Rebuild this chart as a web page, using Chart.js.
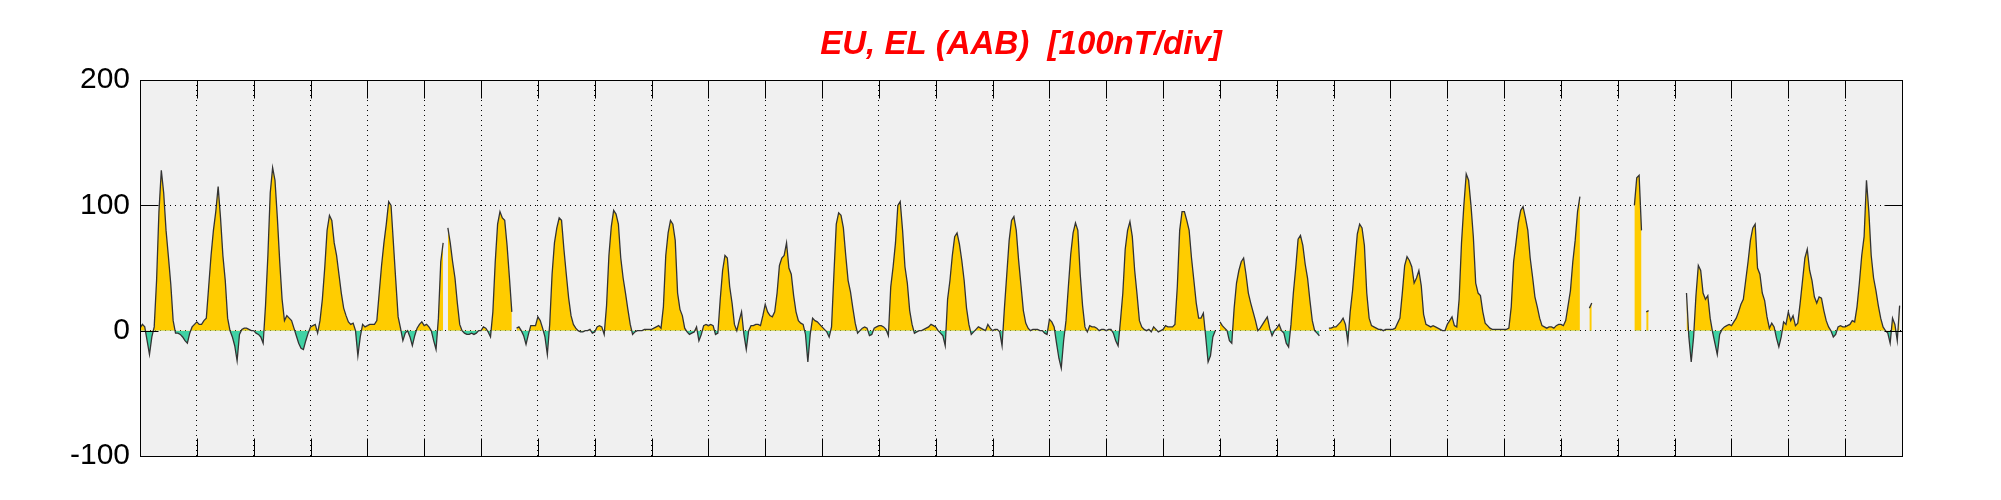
<!DOCTYPE html>
<html><head><meta charset="utf-8">
<style>html,body{margin:0;padding:0;background:#fff;overflow:hidden}</style>
<script src="https://cdn.jsdelivr.net/npm/chart.js@4.4.1/dist/chart.umd.min.js"></script>
</head><body>
<canvas id="c" width="2001" height="500"></canvas>
<script>
const titleText = 'EU, EL (AAB)  [100nT/div]';
const yMin = -100, yMax = 200, yStep = 100;
const dayCount = 31;
// hourly EU/EL values (nT), one array per day
const day00 = [2,5,3,-8,-19,-5,3,40,95,128,110,80,59,37,8,-2,-2,-3,-5,-8,-10,-2,3,5];
const day01 = [7,5,5,8,10,35,60,80,95,115,90,60,40,10,0,-5,-12,-24,-3,1,2,2,1,0];
const day02 = [0,-2,-3,-5,-10,20,60,110,130,120,90,55,25,8,12,10,8,2,-4,-10,-14,-15,-8,-2];
const day03 = [3,4,5,-2,8,25,50,80,92,88,70,60,45,30,18,12,7,5,6,0,-20,-5,5,3];
const day04 = [4,5,5,5,8,30,52,70,85,103,100,70,40,11,2,-8,-2,0,-5,-12,-4,2,5,7];
const day05 = [4,5,3,0,-8,-15,10,55,70,null,82,70,55,42,22,5,0,-2,-3,-3,-2,-3,-2,0];
const day06 = [0,3,2,-1,-5,15,55,85,95,90,88,68,42,15,null,2,3,0,-4,-11,-3,4,4,4];
const day07 = [11,8,2,-5,-19,5,45,70,82,90,88,65,45,26,12,5,2,0,-1,-1,0,0,1,-2];
const day08 = [-1,3,4,3,-3,20,60,83,96,93,85,58,42,30,17,5,-3,-1,0,0,0,1,1,1];
const day09 = [1,2,3,4,2,19,60,78,88,85,72,30,17,12,2,-1,-3,-2,-1,3,-8,-3,4,5];
const day10 = [4,5,4,-3,-2,25,48,60,58,35,22,5,0,8,15,-3,-15,0,4,4,5,5,4,12];
const day11 = [21,15,12,11,15,30,52,58,60,70,50,45,28,15,8,6,5,-3,-25,-3,10,8,7,5];
const day12 = [3,1,-1,-5,3,45,85,94,92,82,60,40,31,18,6,-2,0,2,3,2,-4,-3,2,3];
const day13 = [4,4,3,1,-4,35,51,70,100,103,80,51,38,16,5,-2,-1,0,0,1,2,3,5,4];
const day14 = [3,0,-2,-4,-12,25,40,60,75,78,69,56,40,18,5,-3,-1,1,3,2,1,0,5,2];
const day15 = [0,1,1,-1,-12,18,45,72,88,91,80,56,36,16,6,2,0,1,1,1,0,0,-2,-3];
const day16 = [9,7,3,-10,-22,-30,-8,8,35,61,78,86,80,45,20,3,-1,4,3,3,2,0,1,1];
const day17 = [0,1,1,-2,-8,-12,8,30,65,80,87,75,48,29,8,3,1,0,1,-1,3,1,-1,0];
const day18 = [1,4,3,3,3,5,35,80,95,95,88,80,58,40,22,10,10,14,-5,-25,-20,-5,0,null];
const day19 = [7,4,2,0,-8,-10,18,38,48,55,58,45,30,22,15,8,0,2,5,8,11,2,-4,0];
const day20 = [2,5,0,-2,-10,-13,5,30,50,73,76,68,53,42,24,8,0,-2,-4,null,null,null,2,2];
const day21 = [3,3,5,7,10,5,-9,15,32,55,77,85,82,68,30,10,4,3,2,1,1,0,1,1];
const day22 = [1,1,2,6,10,30,52,59,56,51,38,42,48,36,13,5,4,3,4,3,2,1,0,0];
const day23 = [5,8,11,4,3,25,70,100,125,120,100,75,38,30,28,15,6,4,2,1,1,1,1,1];
const day24 = [1,1,2,19,55,70,86,96,99,90,80,58,43,27,19,10,4,3,2,3,3,2,4,5];
const day25 = [5,4,8,20,32,55,72,95,107,null,null,null,18,22,null,null,null,null,null,null,null,null,null,null];
const day26 = [null,null,null,null,null,null,null,100,122,124,80,null,15,16,null,null,null,null,null,null,null,null,null,null];
const day27 = [null,null,null,null,null,30,-5,-25,-5,28,52,48,30,25,28,10,-1,-10,-19,-3,1,3,4,5];
const day28 = [4,7,10,15,21,25,40,55,72,82,85,50,45,30,24,11,2,6,3,-6,-13,-5,7,5];
const day29 = [15,8,12,4,6,22,40,58,65,48,40,27,22,27,26,16,8,3,0,-5,-3,3,4,3];
const day30 = [3,4,5,8,7,19,38,60,75,120,95,60,42,32,20,10,3,0,-2,-10,10,5,-8,20];

const days = [day00,day01,day02,day03,day04,day05,day06,day07,day08,day09,day10,day11,day12,day13,day14,day15,
  day16,day17,day18,day19,day20,day21,day22,day23,day24,day25,day26,day27,day28,day29,day30];
const points = [];
days.forEach((arr, k) => arr.forEach((v, h) => points.push({x: k + h / 24, y: v})));

const TICK = 18;
const framePlugin = {
  id: 'frame',
  beforeDraw(chart) {
    const {ctx, chartArea: a} = chart;
    ctx.save();
    ctx.fillStyle = '#F0F0F0';
    ctx.fillRect(a.left, a.top, a.right - a.left, a.bottom - a.top);
    ctx.restore();
  },
  afterDraw(chart) {
    const {ctx, chartArea: a, scales: {x, y}} = chart;
    ctx.save();
    ctx.strokeStyle = '#000';
    ctx.lineWidth = 1;
    ctx.setLineDash([]);
    const L = Math.round(a.left) + 0.5, R = Math.round(a.right) + 0.5;
    const T = Math.round(a.top) + 0.5, B = Math.round(a.bottom) + 0.5;
    ctx.strokeRect(L, T, R - L, B - T);
    ctx.beginPath();
    x.ticks.forEach(t => {
      const px = Math.round(x.getPixelForValue(t.value)) + 0.5;
      ctx.moveTo(px, T); ctx.lineTo(px, T + TICK);
      ctx.moveTo(px, B); ctx.lineTo(px, B - TICK);
    });
    y.ticks.forEach(t => {
      const py = Math.round(y.getPixelForValue(t.value)) + 0.5;
      ctx.moveTo(L, py); ctx.lineTo(L + TICK, py);
      ctx.moveTo(R, py); ctx.lineTo(R - TICK, py);
    });
    ctx.stroke();
    ctx.restore();
  }
};

new Chart(document.getElementById('c'), {
  type: 'line',
  data: {
    datasets: [{
      data: points,
      parsing: false,
      borderColor: '#333333',
      borderWidth: 1.3,
      pointRadius: 0,
      tension: 0,
      spanGaps: false,
      fill: {target: {value: 0}, above: '#FFCC00', below: '#40D2A4'}
    }]
  },
  options: {
    responsive: false,
    devicePixelRatio: 1,
    animation: false,
    events: [],
    layout: {padding: {left: 0, right: 99, top: 0, bottom: 44}},
    plugins: {
      legend: {display: false},
      tooltip: {enabled: false},
      title: {
        display: true,
        text: titleText,
        fullSize: false,
        color: '#FF0000',
        font: {family: "'Liberation Sans', Arial, sans-serif", size: 33, weight: 'bold', style: 'italic', lineHeight: 1.2},
        padding: {top: 25, bottom: 15.4}
      }
    },
    scales: {
      x: {
        type: 'linear', min: 0, max: dayCount,
        ticks: {display: false, stepSize: 1},
        grid: {color: '#000', lineWidth: 1, drawTicks: false},
        border: {display: false, dash: [1, 4]},
        afterFit: s => { s.height = 0; }
      },
      y: {
        type: 'linear', min: yMin, max: yMax,
        ticks: {stepSize: yStep, color: '#000', padding: 10,
          font: {family: "'Liberation Sans', Arial, sans-serif", size: 30}},
        grid: {color: '#000', lineWidth: 1, drawTicks: false},
        border: {display: false, dash: [1, 4]},
        afterFit: s => { s.width = 140; }
      }
    }
  },
  plugins: [framePlugin]
});
</script>
</body></html>
